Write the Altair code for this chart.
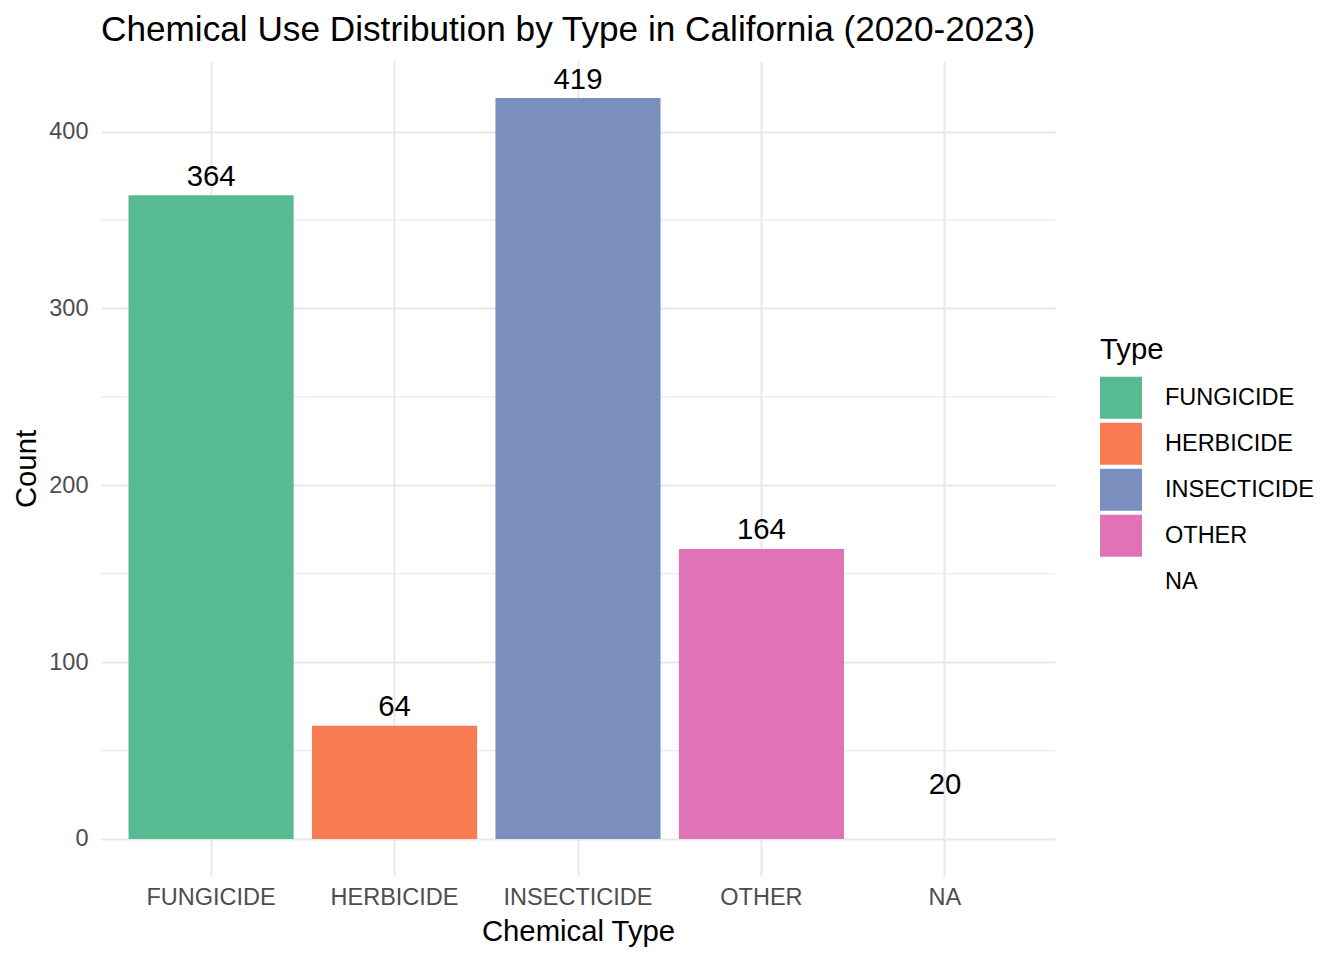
import altair as alt
import pandas as pd

categories = ["FUNGICIDE", "HERBICIDE", "INSECTICIDE", "OTHER", "NA"]
counts = [364, 64, 419, 164, 20]
fill_colors = ["#57BA93", "#F97B52", "#7B8FBF", "#E072B6", "rgba(0,0,0,0)"]
major_ticks = [0, 100, 200, 300, 400]
minor_ticks = [50, 150, 250, 350]

df = pd.DataFrame({"type": categories, "count": counts})
minor_df = pd.DataFrame({"v": minor_ticks})

FONT = "Liberation Sans"
ydom = [-20.95, 439.95]

xenc = alt.X(
    "type:N",
    sort=categories,
    scale=alt.Scale(paddingInner=0.1, paddingOuter=0.15),
    axis=alt.Axis(
        title="Chemical Type",
        labelAngle=0,
        labelFontSize=23.5,
        labelColor="#4D4D4D",
        labelFont=FONT,
        labelPadding=9.5,
        labelBaseline="top",
        ticks=False,
        domain=False,
        grid=True,
        gridColor="#E8E8E8",
        gridWidth=2,
        bandPosition=0.5,
        titleFont=FONT,
        titleFontSize=29.3,
        titleFontWeight="normal",
        titleColor="#000000",
        titleBaseline="alphabetic",
        titleY=64,
    ),
)

yscale = alt.Scale(domain=ydom, nice=False, zero=False)

minor = alt.Chart(minor_df).mark_rule(color="#EBEBEB", strokeWidth=1.2).encode(
    y=alt.Y("v:Q", scale=yscale)
)

bars = alt.Chart(df).mark_bar().encode(
    x=xenc,
    y=alt.Y(
        "count:Q",
        scale=yscale,
        stack=None,
        axis=alt.Axis(
            title="Count",
            values=major_ticks,
            labelFontSize=23.5,
            labelColor="#4D4D4D",
            labelFont=FONT,
            labelPadding=13,
            ticks=False,
            domain=False,
            grid=True,
            gridColor="#E8E8E8",
            gridWidth=2,
            titleFont=FONT,
            titleFontSize=29.3,
            titleFontWeight="normal",
            titleColor="#000000",
            titleBaseline="alphabetic",
            titleX=-66,
            titleY=407.5,
        ),
    ),
    color=alt.Color(
        "type:N",
        sort=categories,
        scale=alt.Scale(domain=categories, range=fill_colors),
        legend=alt.Legend(
            title="Type",
            orient="none",
            legendX=999,
            legendY=274.5,
            titleFont=FONT,
            titleFontSize=29.3,
            titleFontWeight="normal",
            titleColor="#000000",
            titlePadding=12,
            labelFont=FONT,
            labelFontSize=23.5,
            labelColor="#000000",
            labelOffset=23,
            symbolType="square",
            symbolSize=1764,
            symbolStrokeWidth=0,
            symbolOpacity=1,
            rowPadding=4,
            padding=0,
        ),
    ),
)

labels = alt.Chart(df).mark_text(
    baseline="alphabetic", dy=-9.5, fontSize=29.3, font=FONT, color="#000000"
).encode(
    x=alt.X("type:N", sort=categories),
    y=alt.Y("count:Q", scale=yscale),
    text=alt.Text("count:Q"),
)

chart = alt.layer(minor, bars, labels).properties(
    width=954,
    height=815,
    autosize=alt.AutoSizeParams(type="none"),
    padding={"left": 93, "top": 53, "right": 281, "bottom": 76},
    title=alt.TitleParams(
        "Chemical Use Distribution by Type in California (2020-2023)",
        anchor="start",
        frame="group",
        font=FONT,
        fontSize=35.2,
        fontWeight="normal",
        color="#000000",
        baseline="alphabetic",
        offset=19,
        dy=34,
    ),
).configure_view(stroke=None)

chart.save("out.html", embed_options={"renderer": "svg", "actions": False})
